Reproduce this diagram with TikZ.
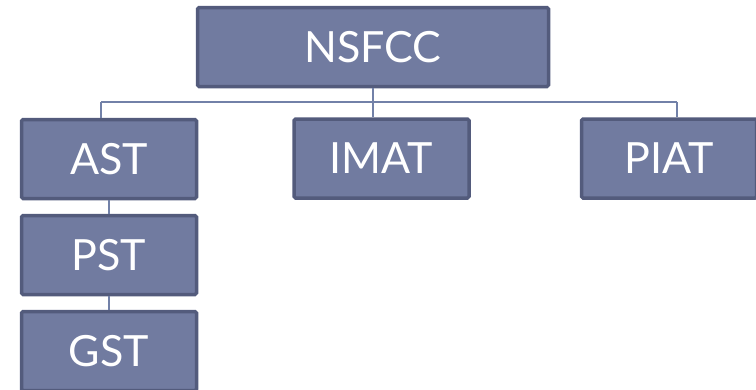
\documentclass[tikz,border=0pt]{standalone}
\usepackage{fontspec}
\setmainfont{Lato}
\definecolor{boxfill}{HTML}{717BA0}
\definecolor{boxline}{HTML}{535B7C}
\definecolor{conn}{HTML}{7281A8}
\begin{document}
\begin{tikzpicture}[x=1pt,y=-1pt,
  orgbox/.style={draw=boxline,fill=boxfill,line width=3.5pt,rounded corners=1.5pt,
    text=white,font=\fontsize{43}{43}\selectfont,inner sep=0pt,
    minimum width=175pt,minimum height=79pt},
  topbox/.style={orgbox,minimum width=351pt},
  link/.style={draw=conn,line width=1.5pt}]
\useasboundingbox (0,0) rectangle (756,389);
\clip (0,0) rectangle (756,389);
\node[topbox] (ns) at (373,47) {NSFCC};
\node[orgbox] (ast) at (109,159) {AST};
\node[orgbox] (imat) at (381.5,158.5) {IMAT};
\node[orgbox] (piat) at (669,158.5) {PIAT};
\node[orgbox] (pst) at (109,255) {PST};
\node[orgbox] (gst) at (109,351) {GST};
\coordinate (hub) at (373,102);
\coordinate (hl) at (101,102);
\coordinate (hr) at (677,102);
\begin{scope}[on background layer/.style={}]
\end{scope}
\draw[link] (ns.south) -- (hub);
\draw[link] (hl) -- (hr);
\draw[link] (hl) -- (hl |- ast.north);
\draw[link] (hub) -- (hub |- imat.north);
\draw[link] (hr) -- (hr |- piat.north);
\draw[link] (ast.south) -- (pst.north);
\draw[link] (pst.south) -- (gst.north);
\end{tikzpicture}
\end{document}
